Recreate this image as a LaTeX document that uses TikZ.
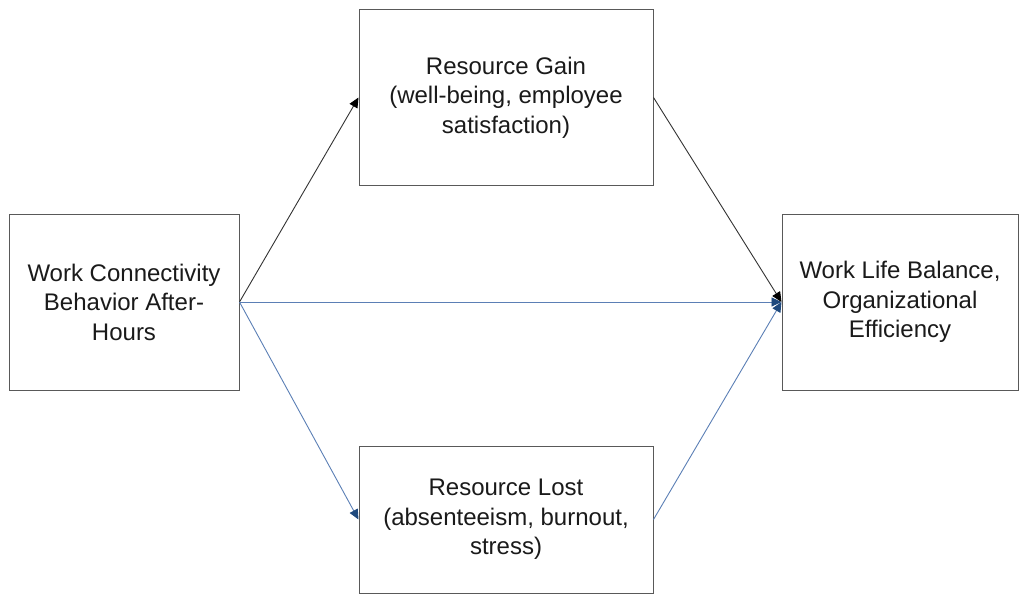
\documentclass[tikz,border=0pt]{standalone}
\usepackage{fontspec}
\setmainfont{Liberation Sans}
\usetikzlibrary{arrows.meta}
\definecolor{boxgray}{HTML}{595959}
\definecolor{lineblue}{HTML}{5B7FB5}
\definecolor{navy}{HTML}{1F497D}
\definecolor{txt}{HTML}{1A1A1A}
\tikzset{
  box/.style={draw=boxgray, line width=1pt, fill=white, align=center, text=txt,
    font=\fontsize{24}{29.5}\selectfont, inner sep=0pt},
  blackarrow/.style={draw=black!80, line width=0.9pt, -{Triangle[length=10pt,width=9pt,color=black,fill=black]}},
  bluearrow/.style={draw=lineblue, line width=0.9pt, -{Triangle[length=10pt,width=9pt,color=navy,fill=navy]}},
}
\begin{document}
\begin{tikzpicture}[x=1pt,y=-1pt]
\useasboundingbox (0,0) rectangle (1019,594);
\node[box, minimum width=230pt, minimum height=176pt] (l) at (124,302) {Work Connectivity\\Behavior After-\\Hours};
\node[box, minimum width=294pt, minimum height=175pt] (t) at (506,97.5) {Resource Gain\\(well-being, employee\\satisfaction)};
\node[box, minimum width=294pt, minimum height=147pt] (b) at (506,519.5) {Resource Lost\\(absenteeism, burnout,\\stress)};
\node[box, minimum width=236pt, minimum height=176pt] (r) at (900,302) {Work Life Balance,\\Organizational\\Efficiency};
\draw[blackarrow] (l.east) -- (t.west);
\draw[bluearrow] (l.east) -- (b.west);
\draw[bluearrow] (l.east) -- (r.west);
\draw[bluearrow] (b.east) -- (r.west);
\draw[blackarrow] (t.east) -- (r.west);
\end{tikzpicture}
\end{document}
